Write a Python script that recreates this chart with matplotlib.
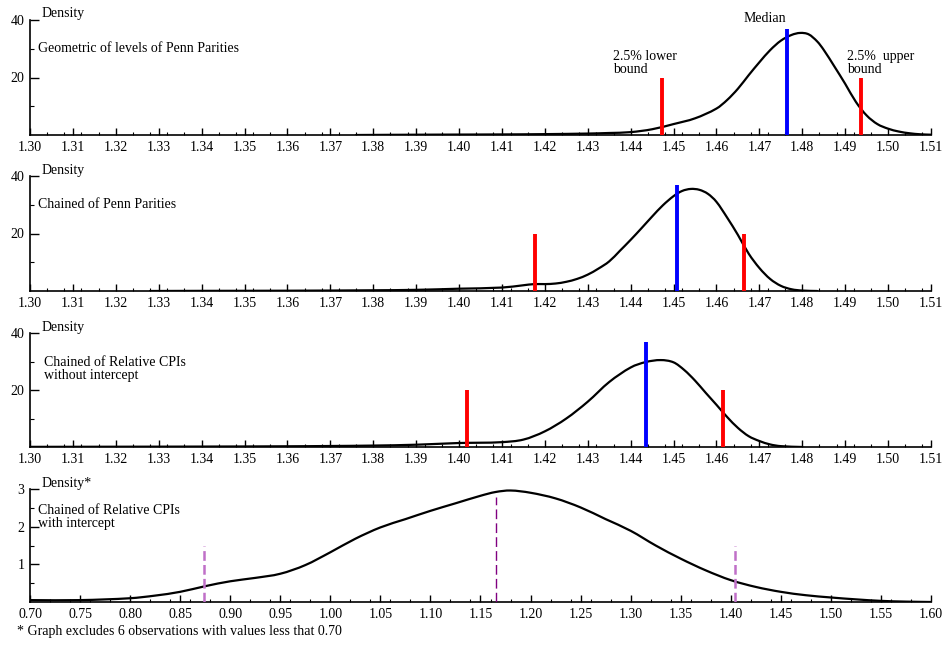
import matplotlib
matplotlib.use("Agg")
import matplotlib.pyplot as plt
from matplotlib.path import Path
from matplotlib.patches import PathPatch
from matplotlib.ticker import MultipleLocator, FixedLocator, FormatStrFormatter

plt.rcParams['font.family'] = ['Liberation Serif', 'DejaVu Serif']
plt.rcParams['lines.scale_dashes'] = False

# ---------------- data ----------------
p1_x = [1.376, 1.39, 1.40, 1.41, 1.42, 1.43, 1.435, 1.44, 1.445, 1.45, 1.455, 1.46, 1.4625,
        1.465, 1.4675, 1.47, 1.4725, 1.475, 1.4775, 1.4795, 1.4815, 1.4835, 1.485, 1.4875,
        1.49, 1.4925, 1.495, 1.4975, 1.50, 1.5025, 1.505, 1.5075, 1.51]
p1_y = [0.0, 0.1, 0.15, 0.2, 0.3, 0.5, 0.7, 1.0, 2.0, 3.8, 5.8, 9.2, 12.2,
        16.1, 20.8, 25.3, 29.5, 32.8, 34.8, 35.5, 35.0, 32.5, 29.6, 23.8,
        17.8, 11.5, 6.8, 3.8, 2.2, 1.2, 0.6, 0.25, 0.1]
p1_median = 1.4765
p1_lower = 1.4473
p1_upper = 1.4936

p2_x = [1.328, 1.34, 1.36, 1.38, 1.39, 1.40, 1.41, 1.415, 1.4175, 1.42, 1.4225, 1.425, 1.4275,
        1.43, 1.4325, 1.435, 1.4375, 1.44, 1.4425, 1.445, 1.4475, 1.45, 1.452, 1.454, 1.456,
        1.458, 1.46, 1.4625, 1.465, 1.4675, 1.47, 1.4725, 1.475, 1.4775, 1.48, 1.4835]
p2_y = [0.0, 0.05, 0.1, 0.25, 0.4, 0.8, 1.2, 2.0, 2.4, 2.4, 2.6, 3.2, 4.2,
        5.7, 7.8, 10.3, 14.0, 17.8, 21.8, 25.9, 29.8, 33.0, 34.8, 35.5, 35.2,
        33.8, 31.0, 25.5, 19.5, 13.0, 8.0, 4.2, 1.8, 0.6, 0.15, 0.0]
p2_median = 1.4507
p2_lower = 1.4177
p2_upper = 1.4663

p3_x = [1.30, 1.32, 1.34, 1.36, 1.37, 1.38, 1.39, 1.40, 1.405, 1.41, 1.415, 1.42, 1.425,
        1.43, 1.435, 1.44, 1.4435, 1.447, 1.45, 1.4525, 1.455, 1.4575, 1.46, 1.4625,
        1.465, 1.4675, 1.47, 1.4725, 1.475, 1.48]
p3_y = [0.05, 0.1, 0.15, 0.25, 0.35, 0.5, 0.8, 1.4, 1.5, 1.7, 2.6, 5.5, 10.0,
        15.9, 22.8, 27.9, 29.8, 30.5, 29.7, 27.0, 23.3, 19.0, 14.8, 10.5,
        6.7, 3.8, 2.1, 0.9, 0.3, 0.0]
p3_median = 1.4435
p3_lower = 1.4019
p3_upper = 1.4616

p4_x = [0.70, 0.75, 0.80, 0.825, 0.85, 0.875, 0.90, 0.925, 0.95, 0.975, 1.00, 1.025, 1.05,
        1.075, 1.10, 1.125, 1.15, 1.165, 1.18, 1.20, 1.225, 1.25, 1.275, 1.30, 1.325,
        1.35, 1.375, 1.40, 1.425, 1.45, 1.475, 1.50, 1.525, 1.55, 1.575, 1.60]
p4_y = [0.05, 0.05, 0.1, 0.17, 0.27, 0.42, 0.55, 0.64, 0.75, 0.98, 1.32, 1.68, 1.98,
        2.2, 2.42, 2.62, 2.82, 2.92, 2.96, 2.9, 2.75, 2.51, 2.2, 1.89, 1.5,
        1.15, 0.84, 0.58, 0.4, 0.27, 0.18, 0.12, 0.07, 0.03, 0.01, 0.0]
p4_median = 1.165
p4_lower = 0.8738
p4_upper = 1.4041

panel_labels = ["Geometric of levels of Penn Parities",
                "Chained of Penn Parities",
                "Chained of Relative CPIs\nwithout intercept",
                "Chained of Relative CPIs\nwith intercept"]
footnote = "* Graph excludes 6 observations with values less that 0.70"

# ---------------- helpers ----------------
W, H = 946, 646
fig = plt.figure(figsize=(W / 100, H / 100), dpi=100)


def smooth_curve(ax, xs, ys, **kw):
    """Draw a smooth line through the read points (cubic Bezier segments)."""
    n = len(xs)
    slopes = []
    for i in range(n):
        if i == 0:
            m = (ys[1] - ys[0]) / (xs[1] - xs[0])
        elif i == n - 1:
            m = (ys[-1] - ys[-2]) / (xs[-1] - xs[-2])
        else:
            m = (ys[i + 1] - ys[i - 1]) / (xs[i + 1] - xs[i - 1])
        slopes.append(m)
    verts = [(xs[0], ys[0])]
    codes = [Path.MOVETO]
    for i in range(n - 1):
        h = xs[i + 1] - xs[i]
        c1 = (xs[i] + h / 3, max(ys[i] + slopes[i] * h / 3, 0))
        c2 = (xs[i + 1] - h / 3, max(ys[i + 1] - slopes[i + 1] * h / 3, 0))
        verts += [c1, c2, (xs[i + 1], ys[i + 1])]
        codes += [Path.CURVE4] * 3
    patch = PathPatch(Path(verts, codes), facecolor='none', **kw)
    ax.add_patch(patch)


def rect(top, bottom):
    return [30 / W, 1 - bottom / H, 901 / W, (bottom - top) / H]


def ftext(x, y, s, **kw):
    fig.text(x / W, 1 - y / H, s, fontsize=10, va='center', ha=kw.pop('ha', 'left'),
             linespacing=1.0, **kw)


def style(ax, xlim, ylim, xmaj, xmin, ymaj, ymin, fmt):
    ax.set_xlim(*xlim)
    ax.set_ylim(*ylim)
    for s in ['top', 'right']:
        ax.spines[s].set_visible(False)
    for s in ['left', 'bottom']:
        ax.spines[s].set_linewidth(1.2)
    ax.xaxis.set_major_locator(MultipleLocator(xmaj))
    ax.xaxis.set_minor_locator(MultipleLocator(xmin))
    ax.xaxis.set_major_formatter(FormatStrFormatter(fmt))
    ax.yaxis.set_major_locator(FixedLocator(ymaj))
    ax.yaxis.set_minor_locator(FixedLocator(ymin))
    ax.tick_params(axis='x', which='major', direction='in', length=5, width=1, labelsize=10, pad=4)
    ax.tick_params(axis='x', which='minor', direction='in', length=2.2, width=0.8)
    ax.tick_params(axis='y', which='major', direction='in', length=6.5, width=1, labelsize=10, pad=4)
    ax.tick_params(axis='y', which='minor', direction='in', length=3, width=0.8)
    ax.patch.set_visible(False)


# ---------------- panels 1-3 ----------------
panels = [
    (20, 135, p1_x, p1_y, p1_median, p1_lower, p1_upper, 14, 48),
    (176, 291, p2_x, p2_y, p2_median, p2_lower, p2_upper, 171, 204),
    (333, 447, p3_x, p3_y, p3_median, p3_lower, p3_upper, 327, 369),
]

for i, (top, bot, xs, ys, med, lo, up, dy, ly) in enumerate(panels):
    ax = fig.add_axes(rect(top, bot))
    smooth_curve(ax, xs, ys, edgecolor='black', lw=1.6, zorder=3, capstyle='round')
    ax.vlines([lo, up], 0, 20, color='#ff0000', lw=2.8, zorder=4)
    ax.vlines([med], 0, 37, color='#0000ff', lw=2.8, zorder=4)
    style(ax, (1.30, 1.51), (0, 40), 0.01, 0.004, [20, 40], [10, 30], '%.2f')
    ftext(42, dy, "Density")
    lx = 44 if i == 2 else 38
    ftext(lx, ly, panel_labels[i])

# annotations, panel 1
ftext(765, 19, "Median", ha='center')
ftext(613, 63, "2.5% lower\nbound")
ftext(847, 63, "2.5%  upper\nbound")

# ---------------- panel 4 ----------------
ax4 = fig.add_axes(rect(489, 602))
smooth_curve(ax4, p4_x, p4_y, edgecolor='black', lw=1.6, zorder=3, capstyle='round')
ax4.vlines([p4_lower, p4_upper], 0, 1.5, color='#c070c8', lw=1.8, linestyles=(0, (7, 3)), zorder=4)
ax4.vlines([p4_median], 0, 2.78, color='#800080', lw=1.0, linestyles=(0, (7, 3)), zorder=4)
style(ax4, (0.70, 1.60), (0, 3), 0.05, 0.02, [1, 2, 3], [0.5, 1.5, 2.5], '%.2f')
ftext(42, 483, "Density*")
ftext(38, 517, panel_labels[3])
ftext(17, 632, footnote)

fig.savefig("out.png", dpi=100)
